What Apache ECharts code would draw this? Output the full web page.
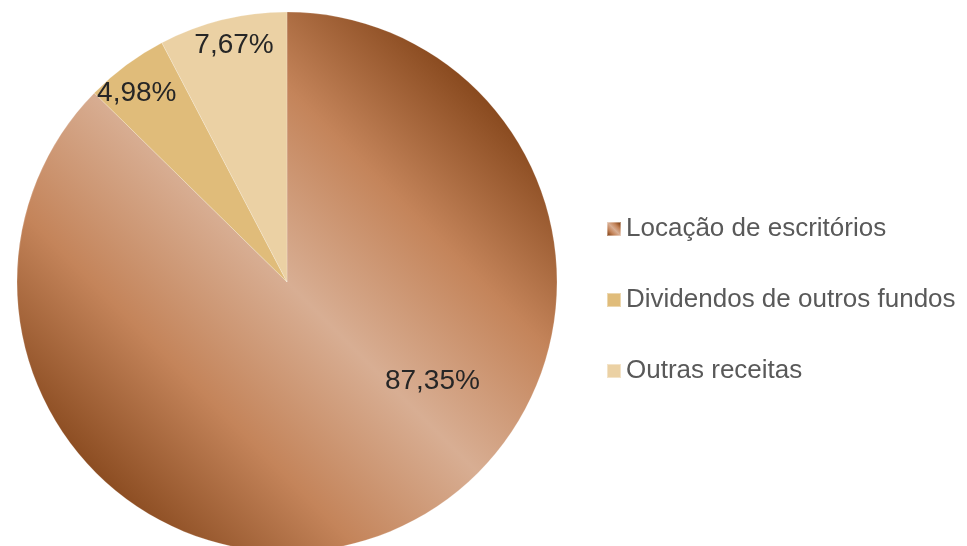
<!DOCTYPE html>
<html>
<head>
<meta charset="utf-8">
<script src="https://cdn.jsdelivr.net/npm/echarts@6/dist/echarts.min.js"></script>
<style>
  html, body { margin: 0; padding: 0; background: #fff; }
  #pie-chart { width: 967px; height: 546px; }
</style>
</head>
<body>
<div id="pie-chart"></div>
<script>
// data
var categories = ['Locação de escritórios', 'Dividendos de outros fundos', 'Outras receitas'];
var shares = [87.35, 4.98, 7.67];

// label nudges (px) from the default inside position
var labelNudge = [[92, -28], [-68, -78], [-20, -103]];

var brown = new echarts.graphic.LinearGradient(1, 0, 0, 1, [
    {offset: 0.15, color: '#8a4b20'},
    {offset: 0.32, color: '#c4845a'},
    {offset: 0.5, color: '#d8ae93'},
    {offset: 0.68, color: '#c4845a'},
    {offset: 0.86, color: '#8a4b20'}
]);
var colors = [brown, '#e0bc7a', '#ebd1a4'];

var myChart = echarts.init(document.getElementById('pie-chart'));

option = {
    animation: false,
    legend: {
        orient: 'vertical',
        left: 606,
        top: 216,
        padding: 0,
        itemWidth: 14,
        itemHeight: 14,
        itemGap: 45,
        icon: 'rect',
        textStyle: {
            fontFamily: 'Liberation Sans, Arial, sans-serif',
            fontSize: 26,
            color: '#595959'
        },
        data: categories
    },
    series: [
        {
            name: 'Receitas',
            type: 'pie',
            center: [287, 282],
            radius: [0, 270],
            startAngle: 90,
            clockwise: true,
            itemStyle: {
                borderColor: 'rgba(255,255,255,0.4)',
                borderWidth: 0.5
            },
            label: {
                show: true,
                position: 'inside',
                fontFamily: 'Liberation Sans, Arial, sans-serif',
                fontSize: 28,
                color: '#262626',
                formatter: function (p) {
                    return p.value.toFixed(2).replace('.', ',') + '%';
                }
            },
            labelLine: {show: false},
            emphasis: {disabled: true},
            data: categories.map(function (c, i) {
                return {
                    name: c,
                    value: shares[i],
                    itemStyle: {color: colors[i]},
                    label: {offset: labelNudge[i]}
                };
            })
        }
    ]
};

myChart.setOption(option, true);
</script>
</body>
</html>
